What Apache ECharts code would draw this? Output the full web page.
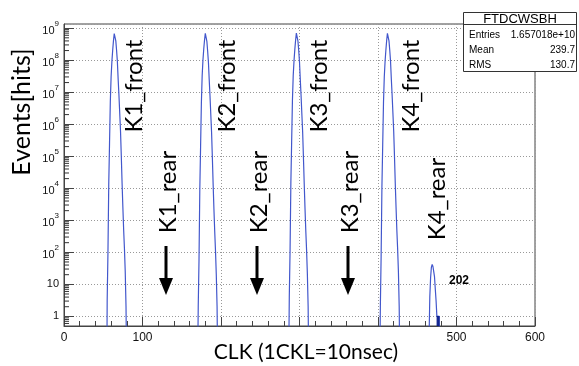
<!DOCTYPE html>
<html><head><meta charset="utf-8">
<script src="https://cdn.jsdelivr.net/npm/echarts@6/dist/echarts.min.js"></script>
<style>html,body{margin:0;padding:0;background:#fff}#c{width:579px;height:366px}</style>
</head><body><div id="c"></div>
<script>
// ---- data ----
const nBins = 600;
const k1Start = 55;
const k1Counts = [3, 100, 1.3e4, 2.5e5, 5e6, 3e7, 9e7, 2e8, 4e8, 6.8e8, 6.6e8, 4e8, 2e8, 9e7, 2.5e7, 8e6, 2.2e6, 6e5, 1e5, 1.4e4, 2.5e3, 500, 130, 25, 2];
const k2Start = 171;
const k2Counts = [2, 60, 9e3, 2e5, 4.5e6, 3.2e7, 1e8, 2.2e8, 4.2e8, 6.9e8, 6.5e8, 3.9e8, 1.9e8, 8.5e7, 2.4e7, 7.5e6, 2e6, 5.5e5, 9e4, 1.3e4, 2.2e3, 450, 110, 20, 2];
const k3Start = 287;
const k3Counts = [4, 120, 1.5e4, 2.8e5, 5.5e6, 3.3e7, 9.5e7, 2.1e8, 4.1e8, 7e8, 6.7e8, 4e8, 2e8, 8.8e7, 2.5e7, 7.8e6, 2.1e6, 5.8e5, 9.5e4, 1.4e4, 2.4e3, 480, 120, 22, 2];
const k4Start = 403;
const k4Counts = [2, 80, 1.1e4, 2.3e5, 4.8e6, 3e7, 9e7, 2e8, 4e8, 6.9e8, 6.6e8, 4e8, 2e8, 9e7, 2.5e7, 8e6, 2.2e6, 6e5, 1e5, 1.4e4, 2.5e3, 500, 130, 25, 2];
const k4RearStart = 466;
const k4RearCounts = [4, 16, 34, 42, 36, 25, 17, 7, 3];
const tailStart = 475;
const tailCounts = [1, 1, 1];
const xShownLabels = [0, 100, 500, 600];
const frontLabels = ['K1_front', 'K2_front', 'K3_front', 'K4_front'];
const rearLabels = ['K1_rear', 'K2_rear', 'K3_rear', 'K4_rear'];
const rearCountLabel = '202';
const statTitle = 'FTDCWSBH';
const statNames = ['Entries', 'Mean', 'RMS'];
const statValues = ['1.657018e+10', '239.7', '130.7'];
const xTitle = 'CLK (1CKL=10nsec)';
const yTitle = 'Events[hits]';

// ---- build histogram ----
const Y_MIN = 0.5, Y_MAX = 1.35e9, FLOOR = 0.01;
const hist = new Array(nBins).fill(0);
[[k1Start, k1Counts], [k2Start, k2Counts], [k3Start, k3Counts], [k4Start, k4Counts], [k4RearStart, k4RearCounts], [tailStart, tailCounts]]
  .forEach(([s, arr]) => arr.forEach((v, i) => { hist[s + i] += v; }));
const histData = hist.map((c, i) => [i + 0.5, c > 0 ? c : FLOOR]);
const tailData = tailCounts.map((c, i) => [tailStart + i, c]);
const minorVals = [];
for (let e = -1; e <= 8; e++) for (let m = 2; m <= 9; m++) {
  const v = m * Math.pow(10, e);
  if (v > Y_MIN && v < Y_MAX) minorVals.push([0, v]);
}

const chart = echarts.init(document.getElementById('c'), null, {renderer: 'canvas'});
const FONT = 'Liberation Sans, Arial, sans-serif';
const SLIDE = 'Lato, "Open Sans", sans-serif';
const gridL = 64, gridR = 44, gridT = 24, gridB = 40;

const graphics = [];
graphics.push({type: 'text', x: 22, y: 112, rotation: Math.PI / 2, z: 100,
  style: {text: yTitle, font: '25px ' + SLIDE, fill: '#000', align: 'center', verticalAlign: 'middle'}});
graphics.push({type: 'text', x: 306, y: 352, z: 100,
  style: {text: xTitle, font: '21px ' + SLIDE, fill: '#000', align: 'center', verticalAlign: 'middle'}});
const frontX = [134, 227, 319, 411];
frontLabels.forEach((t, i) => graphics.push({type: 'text', x: frontX[i], y: 86, rotation: Math.PI / 2, z: 100,
  style: {text: t, font: '24px ' + SLIDE, fill: '#000', align: 'center', verticalAlign: 'middle'}}));
const rearX = [168, 259, 350, 437];
const rearY = [192, 192, 192, 199];
rearLabels.forEach((t, i) => graphics.push({type: 'text', x: rearX[i], y: rearY[i], rotation: Math.PI / 2, z: 100,
  style: {text: t, font: '24px ' + SLIDE, fill: '#000', align: 'center', verticalAlign: 'middle'}}));
[166, 257, 348].forEach(ax => {
  graphics.push({type: 'line', z: 100, shape: {x1: ax, y1: 246, x2: ax, y2: 281}, style: {stroke: '#000', lineWidth: 3}});
  graphics.push({type: 'polygon', z: 100, shape: {points: [[ax - 7, 278], [ax + 7, 278], [ax, 295]]}, style: {fill: '#000'}});
});
graphics.push({type: 'text', x: 459, y: 281, z: 100,
  style: {text: rearCountLabel, font: 'bold 12px ' + FONT, fill: '#000', align: 'center', verticalAlign: 'middle'}});
graphics.push({type: 'rect', z: 110, shape: {x: 463.5, y: 12.5, width: 113, height: 59}, style: {fill: '#fff', stroke: '#333', lineWidth: 1}});
graphics.push({type: 'line', z: 111, shape: {x1: 463.5, y1: 24.5, x2: 576.5, y2: 24.5}, style: {stroke: '#333', lineWidth: 1}});
graphics.push({type: 'text', x: 520, y: 19, z: 112,
  style: {text: statTitle, font: '13px ' + FONT, fill: '#000', align: 'center', verticalAlign: 'middle'}});
statNames.forEach((n, i) => {
  graphics.push({type: 'text', x: 469, y: 35.5 + 15 * i, z: 112,
    style: {text: n, font: '10px ' + FONT, fill: '#000', align: 'left', verticalAlign: 'middle'}});
  graphics.push({type: 'text', x: 575, y: 35.5 + 15 * i, z: 112,
    style: {text: statValues[i], font: '10px ' + FONT, fill: '#000', align: 'right', verticalAlign: 'middle'}});
});

chart.setOption({
  animation: false,
  backgroundColor: '#fff',
  grid: {left: gridL, right: gridR, top: gridT, bottom: gridB, show: true, borderColor: '#444', borderWidth: 1, backgroundColor: 'transparent'},
  xAxis: {
    type: 'value', min: 0, max: 600, interval: 100,
    axisLine: {show: true, onZero: false, lineStyle: {color: '#444', width: 1}},
    axisTick: {show: true, inside: true, length: 9, lineStyle: {color: '#444'}},
    minorTick: {show: true, splitNumber: 5, length: 5, lineStyle: {color: '#444'}},
    splitLine: {show: true, lineStyle: {color: '#999', width: 1, type: [1, 2]}},
    axisLabel: {fontSize: 12, fontFamily: FONT, color: '#111', margin: 6,
      formatter: v => xShownLabels.indexOf(v) >= 0 ? String(v) : ''}
  },
  yAxis: {
    type: 'log', logBase: 10, min: Y_MIN, max: Y_MAX,
    axisLine: {show: true, lineStyle: {color: '#444', width: 1}},
    axisTick: {show: true, inside: true, length: 10, lineStyle: {color: '#444'}},
    splitLine: {show: true, lineStyle: {color: '#999', width: 1, type: [1, 2]}},
    axisLabel: {fontSize: 11, fontFamily: FONT, color: '#111', margin: 5, showMinLabel: false, showMaxLabel: false,
      formatter: v => {
        const l = Math.log10(v), e = Math.round(l);
        if (Math.abs(l - e) > 1e-6) return '';
        if (e === 0) return '1';
        if (e === 1) return '10';
        return '{b|10}{s|' + e + '}';
      },
      rich: {
        b: {fontSize: 11, fontFamily: FONT, color: '#111', lineHeight: 17, verticalAlign: 'bottom'},
        s: {fontSize: 8, fontFamily: FONT, color: '#111', lineHeight: 9, verticalAlign: 'top'}
      }
    }
  },
  series: [
    {type: 'line', data: histData, step: 'middle', symbol: 'none', clip: true, z: 5,
      lineStyle: {color: '#4257cc', width: 1.2}},
    {type: 'custom', data: tailData, clip: true, z: 6, encode: {x: 0, y: 1},
      renderItem: (params, api) => {
        const p1 = api.coord([api.value(0), api.value(1)]);
        const p2 = api.coord([api.value(0) + 1, Y_MIN]);
        return {type: 'rect', shape: {x: p1[0], y: p1[1], width: p2[0] - p1[0], height: p2[1] - p1[1]},
          style: {fill: '#0b1f8c', stroke: '#0b1f8c', lineWidth: 0.5}};
      }},
    {type: 'custom', data: minorVals, z: 4, encode: {x: 0, y: 1},
      renderItem: (params, api) => {
        const p = api.coord([api.value(0), api.value(1)]);
        return {type: 'line', shape: {x1: p[0], y1: p[1], x2: p[0] + 5, y2: p[1]}, style: {stroke: '#333', lineWidth: 1}};
      }}
  ],
  graphic: graphics
});
</script></body></html>
